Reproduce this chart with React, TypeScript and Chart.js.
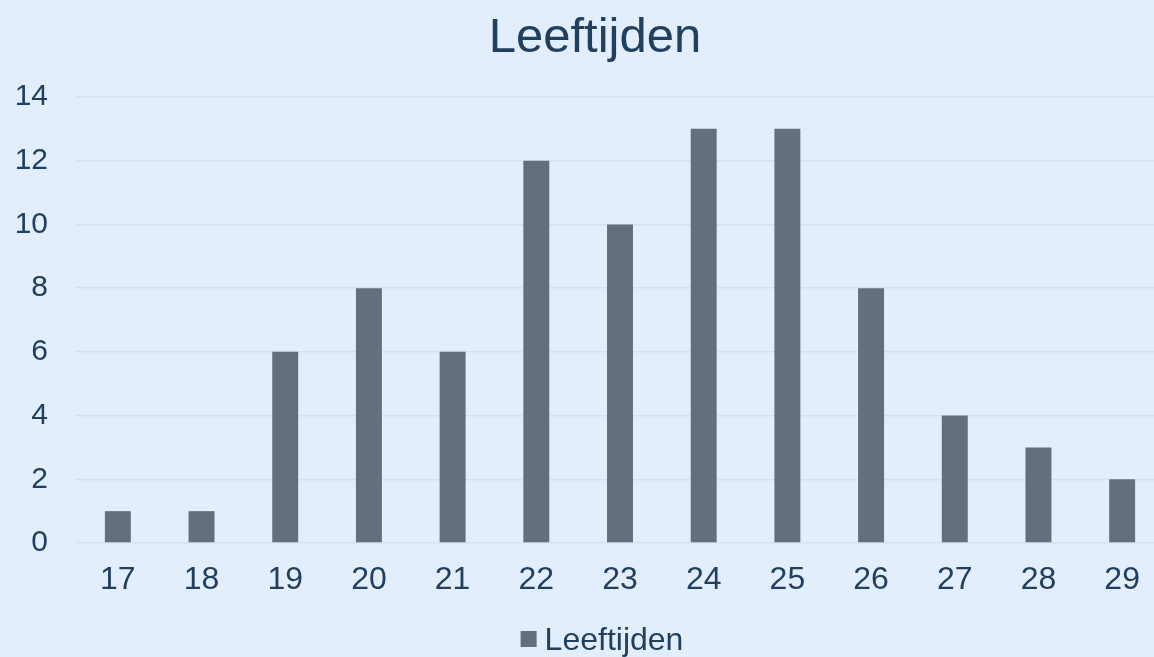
import React, { useEffect, useRef } from "react";
import { Chart, registerables } from "chart.js";

Chart.register(...registerables);

const categories = ["17", "18", "19", "20", "21", "22", "23", "24", "25", "26", "27", "28", "29"];
const values = [1, 1, 6, 8, 6, 12, 10, 13, 13, 8, 4, 3, 2];
const seriesName = "Leeftijden";
const titleText = "Leeftijden";

const BG = "#E3EEFC";
const BAR = "#636E7E";
const TEXT = "#213F5F";
const GRID = "#D3E2F0";
const FONT = "'Liberation Sans', Arial, sans-serif";

const bgPlugin = {
  id: "bg",
  beforeDraw(chart: any) {
    const { ctx, width, height } = chart;
    ctx.save();
    ctx.fillStyle = BG;
    ctx.fillRect(0, 0, width, height);
    ctx.restore();
  },
};

// Title and legend drawn as canvas text (Chart.js's own would be centred on the cropped width)
const titleLegendPlugin = {
  id: "titleLegend",
  afterDraw(chart: any) {
    const ctx = chart.ctx;
    ctx.save();
    ctx.fillStyle = TEXT;
    ctx.textBaseline = "alphabetic";
    ctx.textAlign = "center";
    ctx.font = `49px ${FONT}`;
    ctx.fillText(titleText, 595, 52);

    const ds = chart.data.datasets[0];
    ctx.font = `32px ${FONT}`;
    const tw = ctx.measureText(ds.label).width;
    const box = 16;
    const gap = 8;
    const total = box + gap + tw;
    const x0 = 602 - total / 2;
    ctx.fillStyle = ds.backgroundColor;
    ctx.fillRect(x0, 631, box, box);
    ctx.fillStyle = TEXT;
    ctx.textAlign = "left";
    ctx.fillText(ds.label, x0 + box + gap, 650);
    ctx.restore();
  },
};

export default function App() {
  const ref = useRef<HTMLCanvasElement | null>(null);
  useEffect(() => {
    document.body.style.margin = "0";
    const chart = new Chart(ref.current!, {
      type: "bar",
      data: {
        labels: categories,
        datasets: [
          {
            label: seriesName,
            data: values,
            backgroundColor: BAR,
            borderWidth: 0,
            barPercentage: 0.31,
            categoryPercentage: 1,
          },
        ],
      },
      options: {
        animation: false,
        responsive: false,
        maintainAspectRatio: false,
        layout: { padding: { left: 14, right: 0, top: 97, bottom: 39.6 } },
        plugins: {
          title: { display: false },
          legend: { display: false },
          tooltip: { enabled: false },
        },
        scales: {
          x: {
            grid: { display: false, drawTicks: false },
            border: { display: false },
            ticks: { color: TEXT, font: { family: FONT, size: 32 }, padding: 18 },
          },
          y: {
            min: 0,
            max: 14,
            grid: { color: GRID, lineWidth: 1.5, drawTicks: false },
            border: { display: false },
            ticks: { stepSize: 2, color: TEXT, font: { family: FONT, size: 30 }, padding: 28 },
            afterFit(scale: any) {
              scale.width = 62;
            },
          },
        },
      },
      plugins: [bgPlugin, titleLegendPlugin],
    });
    return () => chart.destroy();
  }, []);
  return (
    <div style={{ position: "relative", width: 1154, height: 657, overflow: "hidden", background: BG }}>
      <canvas ref={ref} width={1164} height={657} style={{ position: "absolute", left: 0, top: 0 }} />
    </div>
  );
}
